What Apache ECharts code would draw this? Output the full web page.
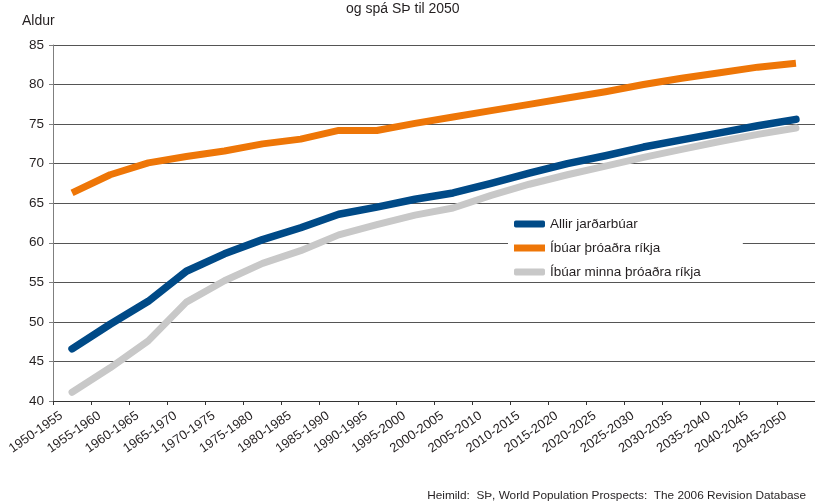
<!DOCTYPE html>
<html>
<head>
<meta charset="utf-8">
<script src="https://cdn.jsdelivr.net/npm/echarts@6/dist/echarts.min.js"></script>
<style>
html,body{margin:0;padding:0;background:#fff;}
#c{width:815px;height:503px;}
</style>
</head>
<body>
<div id="c"></div>
<script>
const categories = ["1950-1955","1955-1960","1960-1965","1965-1970","1970-1975","1975-1980","1980-1985","1985-1990","1990-1995","1995-2000","2000-2005","2005-2010","2010-2015","2015-2020","2020-2025","2025-2030","2030-2035","2035-2040","2040-2045","2045-2050"];
const allirJardarbuar = [46.6, 49.7, 52.6, 56.4, 58.6, 60.4, 61.9, 63.6, 64.5, 65.5, 66.3, 67.5, 68.8, 70.0, 71.0, 72.1, 73.0, 73.9, 74.8, 75.6];
const throudRiki = [66.3, 68.6, 70.1, 70.9, 71.6, 72.5, 73.1, 74.2, 74.2, 75.1, 75.9, 76.7, 77.5, 78.3, 79.1, 80.0, 80.8, 81.5, 82.2, 82.7];
const minnaThroudRiki = [41.1, 44.2, 47.6, 52.5, 55.2, 57.4, 59.0, 61.0, 62.3, 63.5, 64.4, 66.0, 67.4, 68.6, 69.7, 70.8, 71.8, 72.8, 73.7, 74.5];
const seriesNames = ["Allir jarðarbúar", "Íbúar þróaðra ríkja", "Íbúar minna þróaðra ríkja"];
const yTicks = {min: 40, max: 85, interval: 5};

const FONT = '"Liberation Sans", Arial, sans-serif';
const TXT = '#231f20';
const chart = echarts.init(document.getElementById('c'), null, {renderer: 'canvas'});
chart.setOption({
  animation: false,
  backgroundColor: '#fff',
  textStyle: {fontFamily: FONT},
  title: [
    {text: 'og spá SÞ til 2050', left: 341, top: -3,
     textStyle: {fontFamily: FONT, fontSize: 14, fontWeight: 'normal', color: TXT}},
    {text: 'Aldur', left: 17, top: 9,
     textStyle: {fontFamily: FONT, fontSize: 14, fontWeight: 'normal', color: TXT}},
    {text: 'Heimild:  SÞ, World Population Prospects:  The 2006 Revision Database', right: 4, top: 485,
     textStyle: {fontFamily: FONT, fontSize: 11.8, fontWeight: 'normal', color: TXT}}
  ],
  grid: {left: 53, right: -4, top: 45, bottom: 102, containLabel: false},
  legend: {
    orient: 'vertical', left: 508, top: 214, itemGap: 10,
    itemWidth: 31, itemHeight: 7,
    backgroundColor: '#fff', padding: [3, 42, 3, 6],
    textStyle: {fontFamily: FONT, fontSize: 13.5, color: TXT},
    data: [
      {name: seriesNames[0], icon: 'roundRect'},
      {name: seriesNames[1], icon: 'rect'},
      {name: seriesNames[2], icon: 'roundRect'}
    ]
  },
  xAxis: {
    type: 'category', data: categories, boundaryGap: true,
    axisLine: {lineStyle: {color: '#333', width: 1}},
    axisTick: {show: true, length: 4, lineStyle: {color: '#333'}},
    axisLabel: {rotate: 35, margin: 6, fontSize: 13, color: TXT, fontFamily: FONT, interval: 0, padding: [0, 13, 0, 0]},
    splitLine: {show: false}
  },
  yAxis: {
    type: 'value', min: yTicks.min, max: yTicks.max, interval: yTicks.interval,
    axisLine: {show: true, lineStyle: {color: '#7f7f7f', width: 1}},
    axisTick: {show: true, length: 4, lineStyle: {color: '#7f7f7f'}},
    axisLabel: {fontSize: 13.5, color: TXT, fontFamily: FONT, margin: 9},
    splitLine: {show: true, lineStyle: {color: '#555', width: 1}}
  },
  series: [
    {name: seriesNames[0], type: 'line', data: allirJardarbuar, symbol: 'none', z: 5,
     color: '#004a87', lineStyle: {width: 7.5, cap: 'round', join: 'round', color: '#004a87'}},
    {name: seriesNames[1], type: 'line', data: throudRiki, symbol: 'none', z: 4,
     color: '#ee7607', lineStyle: {width: 7, cap: 'butt', join: 'round', color: '#ee7607'}},
    {name: seriesNames[2], type: 'line', data: minnaThroudRiki, symbol: 'none', z: 3,
     color: '#c8c8c8', lineStyle: {width: 7, cap: 'round', join: 'round', color: '#c8c8c8'}}
  ]
});
</script>
</body>
</html>
